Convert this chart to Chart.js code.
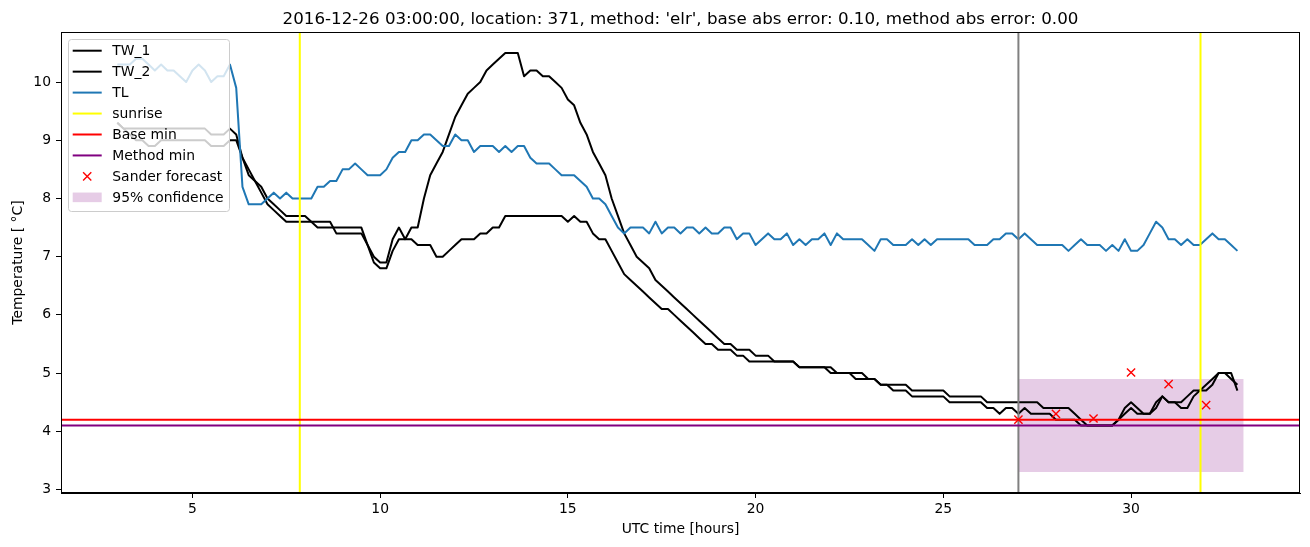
<!DOCTYPE html>
<html>
<head>
<meta charset="utf-8">
<script src="https://cdn.jsdelivr.net/npm/chart.js@4.4.1/dist/chart.umd.min.js"></script>
<style>
  html, body { margin: 0; padding: 0; background: #fff; }
  #wrap { width: 1310px; height: 547px; }
</style>
</head>
<body>
<div id="wrap"><canvas id="tempChart"></canvas></div>
<script>
// samples every 10 minutes starting at 03:00 UTC (one row = one hour)
const T_START = 3;
const T_STEP = 1 / 6;

const TW_1 = [
  9.3, 9.2, 9.2, 9.2, 9.2, 9.2,
  9.2, 9.2, 9.2, 9.2, 9.2, 9.2,
  9.2, 9.2, 9.2, 9.1, 9.1, 9.1,
  9.2, 9.1, 8.7, 8.5, 8.3, 8.2,
  8.0, 7.9, 7.8, 7.7, 7.7, 7.7,
  7.7, 7.6, 7.6, 7.6, 7.6, 7.4,
  7.4, 7.4, 7.4, 7.4, 7.2, 7.0,
  6.9, 6.9, 7.3, 7.5, 7.3, 7.5,
  7.5, 8.0, 8.4, 8.6, 8.8, 9.1,
  9.4, 9.6, 9.8, 9.9, 10.0, 10.2,
  10.3, 10.4, 10.5, 10.5, 10.5, 10.1,
  10.2, 10.2, 10.1, 10.1, 10.0, 9.9,
  9.7, 9.6, 9.3, 9.1, 8.8, 8.6,
  8.4, 8.0, 7.7, 7.4, 7.2, 7.0,
  6.9, 6.8, 6.6, 6.5, 6.4, 6.3,
  6.2, 6.1, 6.0, 5.9, 5.8, 5.7,
  5.6, 5.5, 5.5, 5.4, 5.4, 5.4,
  5.3, 5.3, 5.3, 5.2, 5.2, 5.2,
  5.2, 5.1, 5.1, 5.1, 5.1, 5.1,
  5.1, 5.0, 5.0, 5.0, 5.0, 5.0,
  4.9, 4.9, 4.8, 4.8, 4.8, 4.8,
  4.8, 4.7, 4.7, 4.7, 4.7, 4.7,
  4.7, 4.6, 4.6, 4.6, 4.6, 4.6,
  4.6, 4.5, 4.5, 4.5, 4.5, 4.5,
  4.5, 4.5, 4.5, 4.5, 4.4, 4.4,
  4.4, 4.4, 4.4, 4.3, 4.2, 4.1,
  4.1, 4.1, 4.1, 4.1, 4.2, 4.4,
  4.5, 4.4, 4.3, 4.3, 4.5, 4.6,
  4.5, 4.5, 4.5, 4.6, 4.7, 4.7,
  4.8, 4.9, 5.0, 5.0, 4.9, 4.8
];

const TW_2 = [
  9.3, 9.2, 9.1, 9.0, 9.0, 8.9,
  8.9, 9.0, 9.0, 9.0, 9.0, 9.0,
  9.0, 9.0, 9.0, 8.9, 8.9, 8.9,
  9.0, 9.0, 8.7, 8.4, 8.3, 8.1,
  7.9, 7.8, 7.7, 7.6, 7.6, 7.6,
  7.6, 7.6, 7.5, 7.5, 7.5, 7.5,
  7.5, 7.5, 7.5, 7.5, 7.2, 6.9,
  6.8, 6.8, 7.1, 7.3, 7.3, 7.3,
  7.2, 7.2, 7.2, 7.0, 7.0, 7.1,
  7.2, 7.3, 7.3, 7.3, 7.4, 7.4,
  7.5, 7.5, 7.7, 7.7, 7.7, 7.7,
  7.7, 7.7, 7.7, 7.7, 7.7, 7.7,
  7.6, 7.7, 7.6, 7.6, 7.4, 7.3,
  7.3, 7.1, 6.9, 6.7, 6.6, 6.5,
  6.4, 6.3, 6.2, 6.1, 6.1, 6.0,
  5.9, 5.8, 5.7, 5.6, 5.5, 5.5,
  5.4, 5.4, 5.4, 5.3, 5.3, 5.2,
  5.2, 5.2, 5.2, 5.2, 5.2, 5.2,
  5.2, 5.1, 5.1, 5.1, 5.1, 5.1,
  5.0, 5.0, 5.0, 5.0, 4.9, 4.9,
  4.9, 4.9, 4.8, 4.8, 4.7, 4.7,
  4.7, 4.6, 4.6, 4.6, 4.6, 4.6,
  4.6, 4.5, 4.5, 4.5, 4.5, 4.5,
  4.5, 4.4, 4.4, 4.3, 4.4, 4.4,
  4.3, 4.4, 4.3, 4.3, 4.3, 4.3,
  4.2, 4.2, 4.2, 4.2, 4.1, 4.1,
  4.1, 4.1, 4.1, 4.1, 4.2, 4.3,
  4.4, 4.3, 4.3, 4.3, 4.4, 4.6,
  4.5, 4.5, 4.4, 4.4, 4.6, 4.7,
  4.7, 4.8, 5.0, 5.0, 5.0, 4.7
];

const TL = [
  10.3, 10.3, 10.3, 10.4, 10.4, 10.3,
  10.2, 10.3, 10.2, 10.2, 10.1, 10.0,
  10.2, 10.3, 10.2, 10.0, 10.1, 10.1,
  10.3, 9.9, 8.2, 7.9, 7.9, 7.9,
  8.0, 8.1, 8.0, 8.1, 8.0, 8.0,
  8.0, 8.0, 8.2, 8.2, 8.3, 8.3,
  8.5, 8.5, 8.6, 8.5, 8.4, 8.4,
  8.4, 8.5, 8.7, 8.8, 8.8, 9.0,
  9.0, 9.1, 9.1, 9.0, 8.9, 8.9,
  9.1, 9.0, 9.0, 8.8, 8.9, 8.9,
  8.9, 8.8, 8.9, 8.8, 8.9, 8.9,
  8.7, 8.6, 8.6, 8.6, 8.5, 8.4,
  8.4, 8.4, 8.3, 8.2, 8.0, 8.0,
  7.9, 7.7, 7.5, 7.4, 7.5, 7.5,
  7.5, 7.4, 7.6, 7.4, 7.5, 7.5,
  7.4, 7.5, 7.5, 7.4, 7.5, 7.4,
  7.4, 7.5, 7.5, 7.3, 7.4, 7.4,
  7.2, 7.3, 7.4, 7.3, 7.3, 7.4,
  7.2, 7.3, 7.2, 7.3, 7.3, 7.4,
  7.2, 7.4, 7.3, 7.3, 7.3, 7.3,
  7.2, 7.1, 7.3, 7.3, 7.2, 7.2,
  7.2, 7.3, 7.2, 7.3, 7.2, 7.3,
  7.3, 7.3, 7.3, 7.3, 7.3, 7.2,
  7.2, 7.2, 7.3, 7.3, 7.4, 7.4,
  7.3, 7.4, 7.3, 7.2, 7.2, 7.2,
  7.2, 7.2, 7.1, 7.2, 7.3, 7.2,
  7.2, 7.2, 7.1, 7.2, 7.1, 7.3,
  7.1, 7.1, 7.2, 7.4, 7.6, 7.5,
  7.3, 7.3, 7.2, 7.3, 7.2, 7.2,
  7.3, 7.4, 7.3, 7.3, 7.2, 7.1
];

const SUNRISE = [7.86, 31.85];
const FORECAST_TIME = 27;
const BASE_MIN = 4.2;
const METHOD_MIN = 4.1;

const SANDER_X = [27, 28, 29, 30, 31, 32];
const SANDER_Y = [4.2, 4.3, 4.22, 5.01, 4.81, 4.45];

const CONF_X = [27, 33];
const CONF_LOW = [3.3, 3.3];
const CONF_HIGH = [4.9, 4.9];

const X_TICKS = [5, 10, 15, 20, 25, 30];
const Y_TICKS = [3, 4, 5, 6, 7, 8, 9, 10];
const X_RANGE = [1.5, 34.5];
const Y_RANGE = [2.94, 10.86];

const TITLE = "2016-12-26 03:00:00, location: 371, method: 'elr', base abs error: 0.10, method abs error: 0.00";

const FONT = 'DejaVu Sans';
const FS = 13.9;
const CONF_COLOR = 'rgba(128, 0, 128, 0.2)';

const hours = TL.map((_, i) => T_START + i * T_STEP);
const series = vals => vals.map((v, i) => ({ x: hours[i], y: v }));
const pairs = (xs, ys) => xs.map((x, i) => ({ x: x, y: ys[i] }));
const hline = y => [{ x: X_RANGE[0], y: y }, { x: X_RANGE[1], y: y }];
function vlines(xs) {
  const pts = [];
  xs.forEach((x, k) => {
    if (k) pts.push({ x: x, y: null });
    pts.push({ x: x, y: Y_RANGE[0] }, { x: x, y: Y_RANGE[1] });
  });
  return pts;
}

function line(label, data, color, order) {
  return {
    label: label, data: data, borderColor: color, backgroundColor: color,
    borderWidth: 2, pointRadius: 0, tension: 0, fill: false,
    borderJoinStyle: 'round', spanGaps: false, order: order
  };
}

const legendItems = [
  { text: 'TW_1', kind: 'line', color: '#000000' },
  { text: 'TW_2', kind: 'line', color: '#000000' },
  { text: 'TL', kind: 'line', color: '#1f77b4' },
  { text: 'sunrise', kind: 'line', color: '#ffff00' },
  { text: 'Base min', kind: 'line', color: '#ff0000' },
  { text: 'Method min', kind: 'line', color: '#800080' },
  { text: 'Sander forecast', kind: 'cross', color: '#ff0000' },
  { text: '95% confidence', kind: 'patch', color: CONF_COLOR }
];

function roundedRect(ctx, x, y, w, h, r) {
  ctx.beginPath();
  ctx.moveTo(x + r, y);
  ctx.arcTo(x + w, y, x + w, y + h, r);
  ctx.arcTo(x + w, y + h, x, y + h, r);
  ctx.arcTo(x, y + h, x, y, r);
  ctx.arcTo(x, y, x + w, y, r);
  ctx.closePath();
}

const decorations = {
  id: 'decorations',
  afterDatasetsDraw(chart) {
    const { ctx, chartArea: a } = chart;
    ctx.save();
    ctx.strokeStyle = '#000';
    ctx.lineWidth = 1;
    ctx.strokeRect(Math.round(a.left) + 0.5, Math.round(a.top) + 0.5,
      Math.round(a.right - a.left) - 1, Math.round(a.bottom - a.top) - 1);
    ctx.restore();
  },
  afterDraw(chart) {
    const { ctx, chartArea: a } = chart;
    ctx.save();
    // title
    ctx.fillStyle = '#000';
    ctx.font = '16.7px "' + FONT + '"';
    ctx.textAlign = 'center';
    ctx.textBaseline = 'alphabetic';
    ctx.fillText(TITLE, (a.left + a.right) / 2, a.top - 8.3);

    // legend
    const x0 = a.left + 7.5, y0 = a.top + 7.5;
    roundedRect(ctx, x0, y0, 161, 172, 3);
    ctx.fillStyle = 'rgba(255, 255, 255, 0.8)';
    ctx.fill();
    ctx.strokeStyle = '#cccccc';
    ctx.lineWidth = 1;
    ctx.stroke();

    ctx.font = FS + 'px "' + FONT + '"';
    ctx.textAlign = 'left';
    ctx.textBaseline = 'middle';
    legendItems.forEach((it, i) => {
      const cy = a.top + 18.7 + i * 20.95;
      const hx0 = a.left + 11.7, hx1 = a.left + 40.7;
      if (it.kind === 'line') {
        ctx.strokeStyle = it.color;
        ctx.lineWidth = 2;
        ctx.beginPath();
        ctx.moveTo(hx0, cy);
        ctx.lineTo(hx1, cy);
        ctx.stroke();
      } else if (it.kind === 'cross') {
        const cx = (hx0 + hx1) / 2, r = 4.1;
        ctx.strokeStyle = it.color;
        ctx.lineWidth = 1.4;
        ctx.beginPath();
        ctx.moveTo(cx - r, cy - r); ctx.lineTo(cx + r, cy + r);
        ctx.moveTo(cx - r, cy + r); ctx.lineTo(cx + r, cy - r);
        ctx.stroke();
      } else {
        ctx.fillStyle = it.color;
        ctx.fillRect(hx0, cy - 4.8, hx1 - hx0, 9.6);
      }
      ctx.fillStyle = '#000';
      ctx.fillText(it.text, a.left + 51.3, cy + 1);
    });
    ctx.restore();
  }
};

new Chart(document.getElementById('tempChart'), {
  type: 'line',
  data: {
    datasets: [
      Object.assign(line('conf_high', pairs(CONF_X, CONF_HIGH), CONF_COLOR, 10),
        { borderWidth: 0, fill: '+1', backgroundColor: CONF_COLOR }),
      Object.assign(line('conf_low', pairs(CONF_X, CONF_LOW), CONF_COLOR, 9),
        { borderWidth: 0 }),
      line('TW_1', series(TW_1), '#000000', 8),
      line('TW_2', series(TW_2), '#000000', 7),
      line('TL', series(TL), '#1f77b4', 6),
      line('sunrise', vlines(SUNRISE), '#ffff00', 5),
      line('forecast', vlines([FORECAST_TIME]), '#808080', 4),
      line('Base min', hline(BASE_MIN), '#ff0000', 3),
      line('Method min', hline(METHOD_MIN), '#800080', 2),
      {
        label: 'Sander forecast', data: pairs(SANDER_X, SANDER_Y),
        showLine: false, pointStyle: 'crossRot', pointRadius: 5.8,
        borderColor: '#ff0000', backgroundColor: '#ff0000', pointBorderWidth: 1.4,
        order: 1
      }
    ]
  },
  options: {
    responsive: true,
    maintainAspectRatio: false,
    animation: false,
    events: [],
    layout: { padding: { top: 32, right: 10, left: 0, bottom: 0 } },
    plugins: {
      legend: { display: false },
      tooltip: { enabled: false },
      title: { display: false }
    },
    scales: {
      x: {
        type: 'linear',
        min: X_RANGE[0],
        max: X_RANGE[1],
        afterBuildTicks: s => { s.ticks = X_TICKS.map(v => ({ value: v })); },
        afterFit: s => { s.height = 54; },
        grid: { drawOnChartArea: false, drawTicks: true, tickLength: 5, color: '#000' },
        border: { display: true, color: '#000' },
        ticks: { color: '#000', padding: 3, maxRotation: 0, font: { family: FONT, size: FS } },
        title: {
          display: true, text: 'UTC time [hours]', color: '#000',
          font: { family: FONT, size: FS }, padding: { top: 0, bottom: 9 }
        }
      },
      y: {
        type: 'linear',
        min: Y_RANGE[0],
        max: Y_RANGE[1],
        afterBuildTicks: s => { s.ticks = Y_TICKS.map(v => ({ value: v })); },
        afterFit: s => { s.width = 61; },
        grid: { drawOnChartArea: false, drawTicks: true, tickLength: 5, color: '#000' },
        border: { display: true, color: '#000' },
        ticks: { color: '#000', padding: 5, font: { family: FONT, size: FS } },
        title: {
          display: true, text: 'Temperature [ °C]', color: '#000',
          font: { family: FONT, size: FS }, padding: { top: 10, bottom: 0 }
        }
      }
    }
  },
  plugins: [decorations]
});
</script>
</body>
</html>
